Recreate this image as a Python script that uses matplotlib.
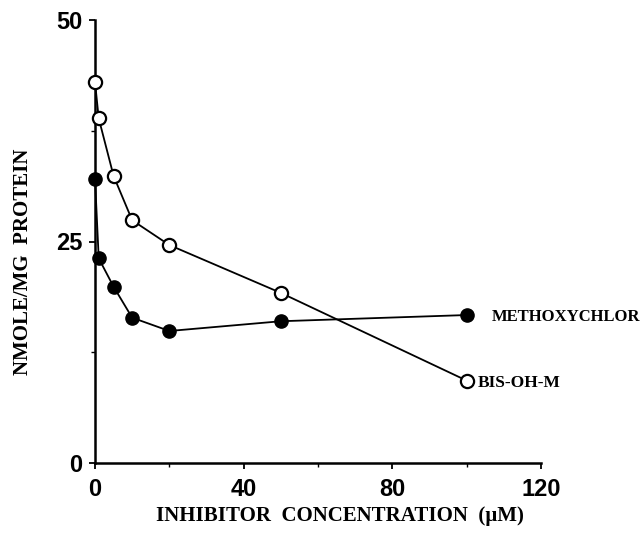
import matplotlib
matplotlib.use('Agg')
import matplotlib.pyplot as plt
from matplotlib.ticker import MultipleLocator

# inhibitor concentration (uM)
conc = [0, 1, 5, 10, 20, 50, 100]
methoxychlor = [32.1, 23.1, 19.9, 16.4, 14.9, 16.0, 16.7]
bis_oh_m = [43.0, 38.9, 32.4, 27.4, 24.6, 19.2, 9.3]

fig = plt.figure(figsize=(6.43, 5.34), dpi=100)
ax = fig.add_axes([95 / 643, 71 / 534, 446 / 643, 443 / 534])

ax.plot(conc, bis_oh_m, color='black', lw=1.3, marker='o', ms=9.5,
        mfc='white', mec='black', mew=1.6, clip_on=False, zorder=3)
ax.plot(conc, methoxychlor, color='black', lw=1.3, marker='o', ms=9.5,
        mfc='black', mec='black', clip_on=False, zorder=4)

ax.set_xlim(0, 120)
ax.set_ylim(0, 50)
ax.xaxis.set_major_locator(MultipleLocator(40))
ax.xaxis.set_minor_locator(MultipleLocator(20))
ax.yaxis.set_major_locator(MultipleLocator(25))
ax.yaxis.set_minor_locator(MultipleLocator(12.5))

for s in ['top', 'right']:
    ax.spines[s].set_visible(False)
for s in ['left', 'bottom']:
    ax.spines[s].set_linewidth(1.8)

ax.tick_params(which='major', length=4, width=1.3, labelsize=17)
ax.tick_params(axis='x', which='major', pad=7)
ax.tick_params(axis='y', which='major', pad=5)
ax.tick_params(which='minor', length=3, width=1.0)
for lab in ax.get_xticklabels() + ax.get_yticklabels():
    lab.set_fontfamily('Liberation Sans')
    lab.set_fontweight('bold')

ax.set_xlabel('INHIBITOR  CONCENTRATION  (\u00b5M)', family='Liberation Serif',
              fontweight='bold', fontsize=15)
ax.xaxis.set_label_coords(0.55, -0.098)
ax.set_ylabel('NMOLE/MG  PROTEIN', family='Liberation Serif',
              fontweight='bold', fontsize=15)
ax.yaxis.set_label_coords(-0.138, 0.455)

fig.text(492 / 643, 1 - 317 / 534, 'METHOXYCHLOR', family='Liberation Serif',
         fontweight='bold', fontsize=12, va='center', ha='left')
fig.text(478 / 643, 1 - 383 / 534, 'BIS-OH-M', family='Liberation Serif',
         fontweight='bold', fontsize=12.5, va='center', ha='left')

fig.savefig('out.png', dpi=100)
